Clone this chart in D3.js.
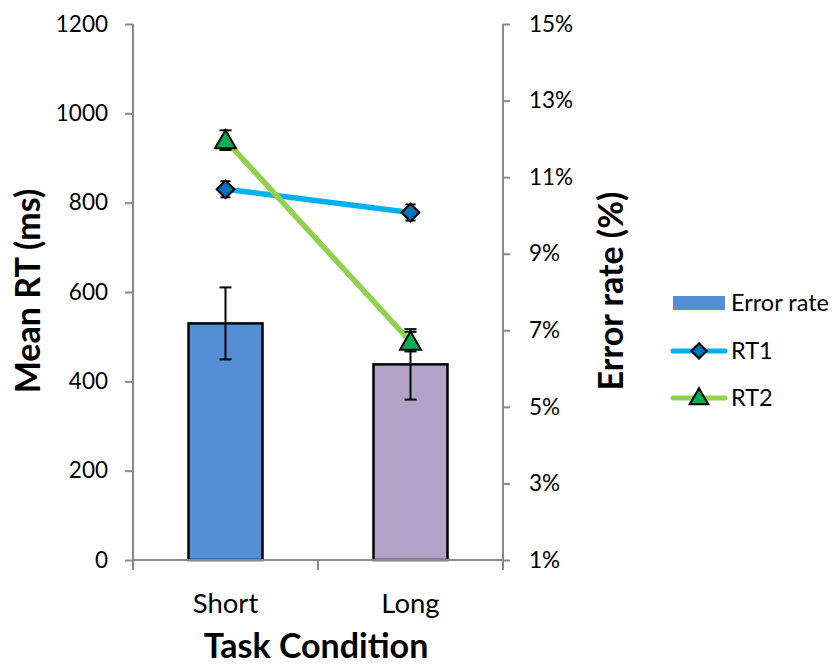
<!DOCTYPE html>
<html>
<head>
<meta charset="utf-8">
<script src="https://cdn.jsdelivr.net/npm/d3@7/dist/d3.min.js"></script>
<style>
  html, body { margin: 0; padding: 0; background: #fff; }
  svg { display: block; font-family: Lato, "Open Sans", sans-serif; }
</style>
</head>
<body>
<svg id="chart" width="836" height="666"></svg>
<script>
// ---- Data ----
const categories = ["Short", "Long"];
const errorRate = [7.18, 6.11];        // %
const errorRateErr = [0.94, 0.92];     // %
const rt1 = [830, 778];                // ms
const rt1Err = [18, 18];
const rt2 = [940, 489];                // ms
const rt2Err = [22, 22];
const leftTicks = [0, 200, 400, 600, 800, 1000, 1200];
const rightTicks = [1, 3, 5, 7, 9, 11, 13, 15];
const barColors = ["#558ED5", "#B3A2C7"];
const seriesNames = ["Error rate", "RT1", "RT2"];

// ---- Layout ----
const svg = d3.select("#chart");
const plot = { left: 133, right: 503, top: 24, bottom: 560 };
const axisColor = "#8a8a8a";

const x = d3.scaleBand().domain(categories).range([plot.left, plot.right]).paddingInner(0).paddingOuter(0);
const yL = d3.scaleLinear().domain([0, 1200]).range([plot.bottom, plot.top]);
const yR = d3.scaleLinear().domain([1, 15]).range([plot.bottom, plot.top]);
const cx = c => x(c) + x.bandwidth() / 2;
const barW = x.bandwidth() * 0.4;

// ---- Bars (Error rate, secondary axis) ----
const bars = svg.append("g");
bars.selectAll("rect").data(categories).join("rect")
  .attr("x", c => cx(c) - barW / 2)
  .attr("y", (c, i) => yR(errorRate[i]))
  .attr("width", barW)
  .attr("height", (c, i) => yR(1) - yR(errorRate[i]))
  .attr("fill", (c, i) => barColors[i])
  .attr("stroke", "#000").attr("stroke-width", 2.5);

function errorBars(g, vals, errs, scale, capW) {
  categories.forEach((c, i) => {
    const xc = cx(c), y1 = scale(vals[i] + errs[i]), y2 = scale(vals[i] - errs[i]);
    g.append("line").attr("x1", xc).attr("x2", xc).attr("y1", y1).attr("y2", y2)
      .attr("stroke", "#000").attr("stroke-width", 2);
    [y1, y2].forEach(yy => g.append("line")
      .attr("x1", xc - capW / 2).attr("x2", xc + capW / 2).attr("y1", yy).attr("y2", yy)
      .attr("stroke", "#000").attr("stroke-width", 2));
  });
}
errorBars(svg.append("g"), errorRate, errorRateErr, yR, 12);

// ---- Axes ----
const axL = svg.append("g").attr("transform", `translate(${plot.left},0)`)
  .call(d3.axisLeft(yL).tickValues(leftTicks).tickSize(8).tickPadding(17).tickFormat(d3.format("d")));
const axR = svg.append("g").attr("transform", `translate(${plot.right},0)`)
  .call(d3.axisRight(yR).tickValues(rightTicks).tickSize(7).tickPadding(19).tickFormat(d => d + "%"));
[axL, axR].forEach(a => {
  a.select(".domain").attr("stroke", axisColor).attr("stroke-width", 2).attr("d", `M0,${plot.top}V${plot.bottom}`);
  a.selectAll(".tick line").attr("stroke", axisColor).attr("stroke-width", 2);
  a.selectAll(".tick text").attr("fill", "#000").style("font-size", "22.5px").style("font-family", "Lato");
});

// x axis
const axX = svg.append("g");
axX.append("line").attr("x1", plot.left).attr("x2", plot.right)
  .attr("y1", plot.bottom).attr("y2", plot.bottom).attr("stroke", axisColor).attr("stroke-width", 2);
const boundaries = categories.map(c => x(c)).concat([x.range()[1]]);
axX.selectAll("line.tk").data(boundaries).join("line").attr("class", "tk")
  .attr("x1", d => d).attr("x2", d => d).attr("y1", plot.bottom).attr("y2", plot.bottom + 10)
  .attr("stroke", axisColor).attr("stroke-width", 2);
axX.selectAll("text").data(categories).join("text")
  .attr("x", cx).attr("y", 613).attr("text-anchor", "middle")
  .style("font-size", "27.5px").attr("fill", "#000").text(d => d);

// ---- Lines ----
const line = d3.line().x((d, i) => cx(categories[i])).y(d => yL(d));
svg.append("path").datum(rt1).attr("d", line).attr("fill", "none")
  .attr("stroke", "#00B0F0").attr("stroke-width", 5.5);
svg.append("path").datum(rt2).attr("d", line).attr("fill", "none")
  .attr("stroke", "#92D050").attr("stroke-width", 5.5);

errorBars(svg.append("g"), rt1, rt1Err, yL, 10);
errorBars(svg.append("g"), rt2, rt2Err, yL, 12);

const diamond = d3.symbol().type(d3.symbolDiamond2).size(200);
const triangle = d3.symbol().type(d3.symbolTriangle).size(190);
svg.append("g").selectAll("path").data(rt1).join("path")
  .attr("d", diamond)
  .attr("transform", (d, i) => `translate(${cx(categories[i])},${yL(d)})`)
  .attr("fill", "#0070C0").attr("stroke", "#000").attr("stroke-width", 2);
svg.append("g").selectAll("path").data(rt2).join("path")
  .attr("d", triangle)
  .attr("transform", (d, i) => `translate(${cx(categories[i])},${yL(d) + 2})`)
  .attr("fill", "#00B050").attr("stroke", "#000").attr("stroke-width", 2);

// ---- Axis titles ----
svg.append("text").attr("transform", "translate(40,291) rotate(-90)")
  .attr("text-anchor", "middle").style("font-size", "34px").style("font-weight", "bold").text("Mean RT (ms)");
svg.append("text").attr("transform", "translate(623,291) rotate(-90)")
  .attr("text-anchor", "middle").style("font-size", "34px").style("font-weight", "bold").text("Error rate (%)");
svg.append("text").attr("x", 316).attr("y", 658)
  .attr("text-anchor", "middle").style("font-size", "34px").style("font-weight", "bold").text("Task Condition");

// ---- Legend ----
const lg = svg.append("g");
lg.append("rect").attr("x", 673).attr("y", 296).attr("width", 52).attr("height", 14).attr("fill", barColors[0]);
lg.append("text").attr("x", 731).attr("y", 311).style("font-size", "23.5px").text(seriesNames[0]);
lg.append("line").attr("x1", 673).attr("x2", 725).attr("y1", 351).attr("y2", 351)
  .attr("stroke", "#00B0F0").attr("stroke-width", 5).attr("stroke-linecap", "round");
lg.append("path").attr("d", d3.symbol().type(d3.symbolDiamond2).size(150))
  .attr("transform", "translate(699,351)").attr("fill", "#0070C0").attr("stroke", "#000").attr("stroke-width", 2);
lg.append("text").attr("x", 731).attr("y", 359).style("font-size", "23.5px").text(seriesNames[1]);
lg.append("line").attr("x1", 673).attr("x2", 725).attr("y1", 398).attr("y2", 398)
  .attr("stroke", "#92D050").attr("stroke-width", 5).attr("stroke-linecap", "round");
lg.append("path").attr("d", d3.symbol().type(d3.symbolTriangle).size(150))
  .attr("transform", "translate(699,399)").attr("fill", "#00B050").attr("stroke", "#000").attr("stroke-width", 2);
lg.append("text").attr("x", 731).attr("y", 406).style("font-size", "23.5px").text(seriesNames[2]);
</script>
</body>
</html>
